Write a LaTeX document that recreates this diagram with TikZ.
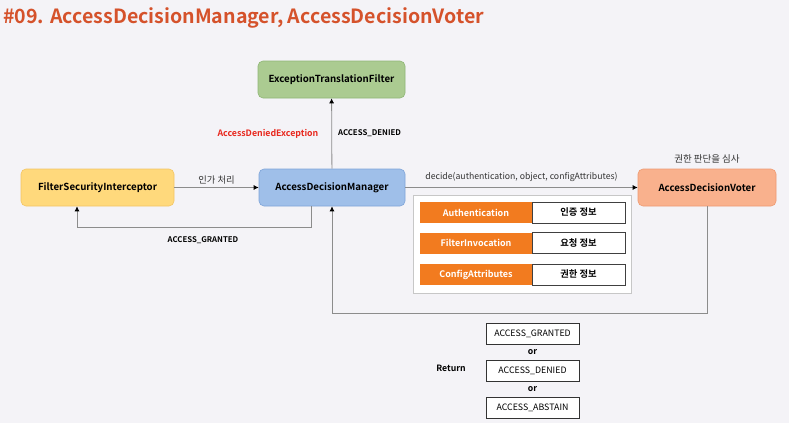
\documentclass[tikz,border=0pt]{standalone}
\usepackage{fontspec}
\setmainfont{Noto Sans CJK KR}[BoldFont={Noto Sans CJK KR Bold}]
\usetikzlibrary{arrows.meta,positioning}
\definecolor{bgcol}{HTML}{F4F3F7}
\definecolor{titlecol}{HTML}{D5522B}
\definecolor{linecol}{HTML}{8C8C8C}
\definecolor{greenfill}{HTML}{ABCB91}
\definecolor{greendraw}{HTML}{8FB676}
\definecolor{yellowfill}{HTML}{FFD97C}
\definecolor{yellowdraw}{HTML}{F3C565}
\definecolor{bluefill}{HTML}{9FBFE9}
\definecolor{bluedraw}{HTML}{7FA5D8}
\definecolor{salmonfill}{HTML}{F9B18D}
\definecolor{salmondraw}{HTML}{EE9A72}
\definecolor{cellorange}{HTML}{F27B1F}
\definecolor{deniedred}{HTML}{E8281E}
\begin{document}
\begin{tikzpicture}[x=1pt,y=-1pt,
  box/.style={draw, rounded corners=5pt, line width=0.6pt, minimum height=37pt,
    font=\fontsize{9.7}{11}\selectfont\bfseries, inner sep=0pt},
  arr/.style={draw=linecol, line width=0.8pt, -{Latex[length=5pt,width=5pt,color=black]}},
  lbl/.style={font=\fontsize{7.8}{9}\selectfont\bfseries, inner sep=1pt},
  txt/.style={font=\fontsize{8.7}{10}\selectfont, text=black!80, inner sep=1pt},
  cell/.style={minimum height=21pt, inner sep=0pt, font=\fontsize{9}{10}\selectfont\bfseries},
  retbox/.style={draw=black!80, line width=0.8pt, fill=white, minimum width=93pt,
    minimum height=21pt, inner sep=0pt, font=\fontsize{8.8}{10}\selectfont}]

% background and frame
\fill[bgcol] (0,0) rectangle (789,423);
\useasboundingbox (0,0) rectangle (789,423);

% title
\node[anchor=west, text=titlecol, font=\fontsize{19.6}{22}\selectfont\bfseries, inner sep=0pt]
  (title) at (3,18) {\#09. AccessDecisionManager, AccessDecisionVoter};

% main boxes
\node[box, fill=greenfill, draw=greendraw, minimum width=147pt] (etf) at (331.5,79.5) {ExceptionTranslationFilter};
\node[box, fill=yellowfill, draw=yellowdraw, minimum width=153pt] (fsi) at (97.5,187.5) {FilterSecurityInterceptor};
\node[box, fill=bluefill, draw=bluedraw, minimum width=146pt] (adm) at (332,187.5) {AccessDecisionManager};
\node[box, fill=salmonfill, draw=salmondraw, minimum width=138pt] (adv) at (707,187.5) {AccessDecisionVoter};
\node[txt, font=\fontsize{9.5}{11}\selectfont, above=4pt of adv] (advnote) {권한 판단을 심사};

% parameter panel
\node[draw=black!22, fill=white, line width=0.6pt, minimum width=218pt, minimum height=98pt,
  inner sep=0pt] (panel) at (522,244) {};
\foreach \k/\en/\ko/\y in {auth/Authentication/인증 정보/212.5,
                           inv/FilterInvocation/요청 정보/243,
                           conf/ConfigAttributes/권한 정보/274.5}
{
  \node[cell, fill=cellorange, text=white, minimum width=112pt] (\k) at (476,\y) {\en};
  \node[cell, draw=black!75, line width=0.8pt, fill=white, minimum width=93pt,
    font=\fontsize{9.3}{10}\selectfont\bfseries] (\k ko) at (578.5,\y) {\ko};
}

% connectors
\draw[arr] (fsi) -- (adm) node[txt, font=\fontsize{9.3}{11}\selectfont, midway, above=2pt] {인가 처리};
\draw[arr] ([xshift=-21pt]adm.south) -- ++(0,21) -| ([xshift=-20.5pt]fsi.south);
\node[lbl] (granted) at (203,240) {ACCESS\_GRANTED};
\draw[arr] (adm) -- (etf)
  node[lbl, font=\fontsize{8.8}{10}\selectfont\bfseries, midway, left=12pt, text=deniedred] (exc) {AccessDeniedException}
  node[lbl, midway, right=5pt] (denied) {ACCESS\_DENIED};
\draw[arr] (adm) -- (adv) node[txt, midway, above=4pt] {decide(authentication, object, configAttributes)};
\draw[arr] (adv.south) -- ++(0,107) -| (adm.south);

% return values
\node[retbox] (rgranted) at (532.5,333.5) {ACCESS\_GRANTED};
\node[retbox] (rdenied) at (532.5,371) {ACCESS\_DENIED};
\node[retbox] (rabstain) at (532.5,407.5) {ACCESS\_ABSTAIN};
\node[lbl, font=\fontsize{8.7}{10}\selectfont\bfseries] (or1) at (532.5,352.5) {or};
\node[lbl, font=\fontsize{8.7}{10}\selectfont\bfseries] (or2) at (532.5,389.5) {or};
\node[lbl, font=\fontsize{8.7}{10}\selectfont\bfseries] (ret) at (451,368) {Return};
\end{tikzpicture}
\end{document}
